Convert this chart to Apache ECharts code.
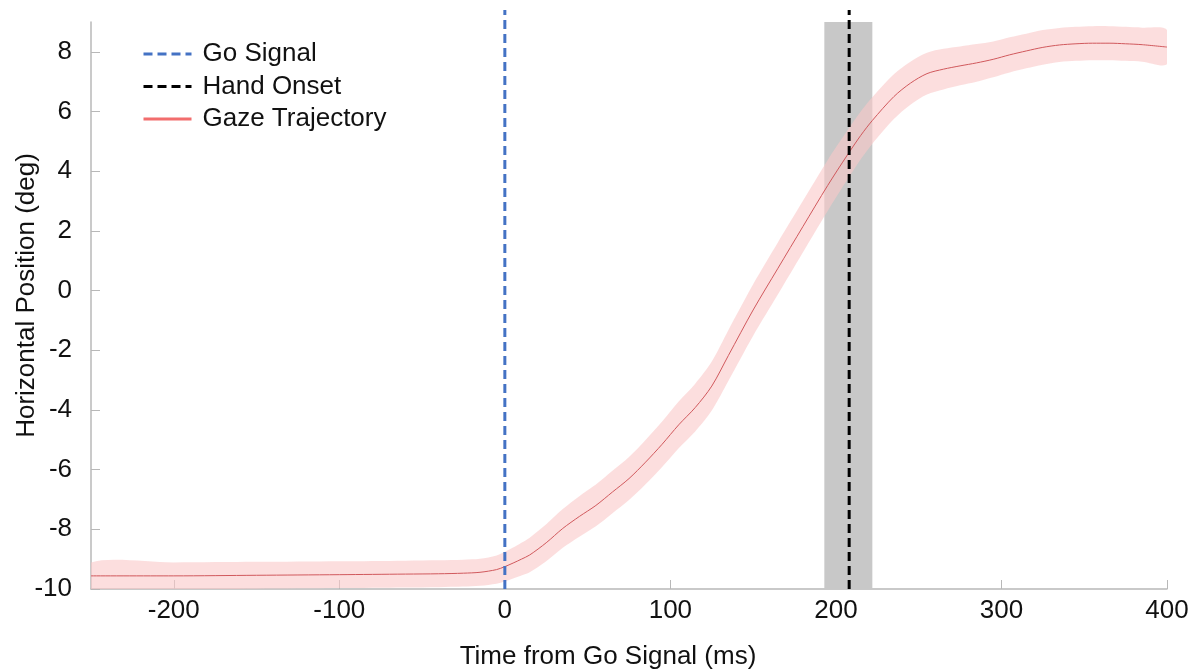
<!DOCTYPE html>
<html>
<head>
<meta charset="utf-8">
<script src="https://cdn.jsdelivr.net/npm/echarts@6/dist/echarts.min.js"></script>
<style>
html,body{margin:0;padding:0;background:#fff;}
#chart{width:1193px;height:669px;}
</style>
</head>
<body>
<div id="chart"></div>
<script>
const times = [-250,-200,-150,-100,-60,-40,-25,-15,-5,0,5,10,15,25,35,45,55,65,75,85,95,105,115,125,135,150,165,180,195,207,215,222,235,245,255,265,275,285,295,305,315,325,335,345,355,365,375,385,400];
const gazeMean = [-9.56,-9.56,-9.54,-9.52,-9.5,-9.49,-9.47,-9.44,-9.35,-9.25,-9.13,-9.0,-8.86,-8.45,-7.97,-7.57,-7.2,-6.75,-6.3,-5.75,-5.15,-4.5,-3.92,-3.2,-2.18,-0.65,0.75,2.14,3.52,4.55,5.2,5.7,6.5,6.95,7.27,7.42,7.53,7.63,7.75,7.9,8.03,8.15,8.23,8.27,8.29,8.29,8.27,8.24,8.16];
const gazeSpread = [0.45,0.45,0.45,0.45,0.45,0.45,0.45,0.45,0.47,0.5,0.52,0.55,0.58,0.62,0.65,0.68,0.7,0.71,0.72,0.74,0.76,0.78,0.8,0.82,0.85,0.86,0.87,0.86,0.85,0.82,0.8,0.78,0.75,0.72,0.7,0.68,0.65,0.63,0.6,0.59,0.58,0.58,0.57,0.57,0.57,0.57,0.57,0.57,0.57];
const goSignalTime = 0;
const handOnsetTime = 208;
const handOnsetRange = [193, 222];
const xTicks = [-200,-100,0,100,200,300,400];
const yTicks = [-10,-8,-6,-4,-2,0,2,4,6,8];
const xRange = [-250, 400];
const yRange = [-10, 9];
const vLineTop = 9.4;

const meanData = times.map((t,i)=>[t, gazeMean[i]]);

const font = '"Liberation Sans", Arial, sans-serif';
const fs = 26;
const chart = echarts.init(document.getElementById('chart'));
chart.setOption({
  animation:false,
  grid:{left:91,right:26,top:22,bottom:80,containLabel:false,outerBoundsMode:'none'},
  legend:{
    orient:'vertical', left:142, top:41, itemGap:6.5, itemWidth:48, itemHeight:14,
    padding:0,
    itemStyle:{opacity:0},
    lineStyle:{width:3},
    data:['Go Signal','Hand Onset',{name:'Gaze Trajectory',lineStyle:{color:'#f26d6d',width:3}}],
    textStyle:{fontFamily:font,fontSize:fs,lineHeight:26,color:'#111',padding:[0,0,0,6]}
  },
  xAxis:{
    type:'value', min:xRange[0], max:xRange[1],
    name:'Time from Go Signal (ms)', nameLocation:'middle', nameGap:55, nameMoveOverlap:false,
    nameTextStyle:{fontFamily:font,fontSize:fs,color:'#111',padding:[0,42,0,0]},
    axisLine:{show:true,onZero:false,lineStyle:{color:'#b8b8b8',width:1.5}},
    axisTick:{show:true,inside:true,length:9,lineStyle:{color:'#b8b8b8'},customValues:xTicks},
    axisLabel:{fontFamily:font,fontSize:fs,color:'#111',margin:9,customValues:xTicks},
    splitLine:{show:false}
  },
  yAxis:{
    type:'value', min:yRange[0], max:yRange[1],
    name:'Horizontal Position (deg)', nameLocation:'middle', nameGap:51, nameMoveOverlap:false,
    nameTextStyle:{fontFamily:font,fontSize:fs,color:'#111',padding:[0,0,0,20]},
    axisLine:{show:true,onZero:false,lineStyle:{color:'#b8b8b8',width:1.5}},
    axisTick:{show:true,inside:true,length:9,lineStyle:{color:'#b8b8b8'},customValues:yTicks},
    axisLabel:{fontFamily:font,fontSize:fs,color:'#111',margin:19,customValues:yTicks},
    splitLine:{show:false}
  },
  series:[
    {
      name:'onsetRange', type:'line', data:[], silent:true,
      markArea:{silent:true, itemStyle:{color:'#c8c8c8'},
        data:[[{xAxis:handOnsetRange[0], yAxis:yRange[0]},{xAxis:handOnsetRange[1], yAxis:yRange[1]}]]},
      z:1
    },
    {
      name:'band', type:'custom', data:[0], silent:true, clip:true, z:2,
      renderItem:function(params, api){
        const upper = times.map((t,i)=>api.coord([t, gazeMean[i]+gazeSpread[i]]));
        const lower = times.map((t,i)=>api.coord([t, gazeMean[i]-gazeSpread[i]])).reverse();
        return {
          type:'polygon',
          shape:{points:upper.concat(lower), smooth:0.3},
          style:{fill:'rgba(250,200,200,0.6)', stroke:null}
        };
      }
    },
    {
      name:'Gaze Trajectory', type:'line', data:meanData, symbol:'none', smooth:0.3,
      lineStyle:{color:'#d0585c',width:1}, itemStyle:{color:'#f26d6d'}, z:3
    },
    {
      name:'Go Signal', type:'line', data:[[goSignalTime,yRange[0]],[goSignalTime,vLineTop]], symbol:'none', clip:false,
      lineStyle:{color:'#4472c4',width:3,type:[9,5]}, itemStyle:{color:'#4472c4'}, z:4
    },
    {
      name:'Hand Onset', type:'line', data:[[handOnsetTime,yRange[0]],[handOnsetTime,vLineTop]], symbol:'none', clip:false,
      lineStyle:{color:'#000',width:3,type:[9,5]}, itemStyle:{color:'#000'}, z:5
    }
  ]
});
</script>
</body>
</html>
